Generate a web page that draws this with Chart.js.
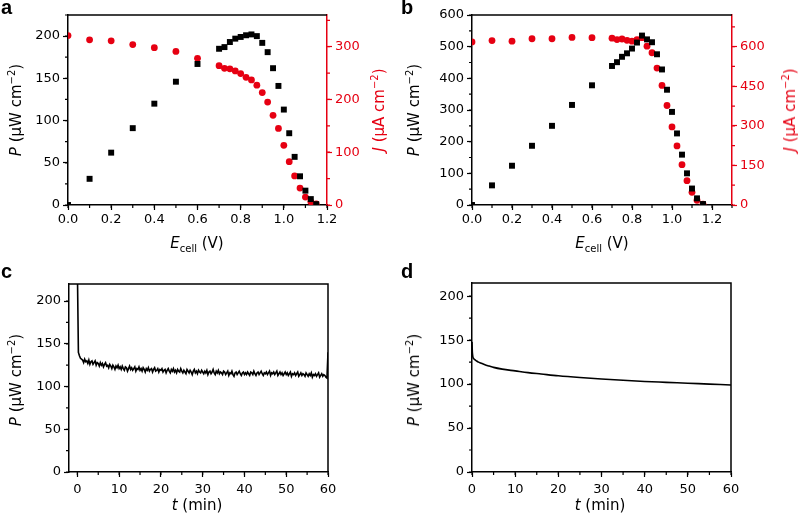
<!DOCTYPE html>
<html>
<head>
<meta charset="utf-8">
<script src="https://cdn.jsdelivr.net/npm/chart.js@4.4.1/dist/chart.umd.min.js"></script>
<style>
  body { margin: 0; background: #fff; }
  #fig { position: relative; width: 799px; height: 520px; overflow: hidden; font-family: "DejaVu Sans", sans-serif; }
  .panel { position: absolute; }
  .lbl { position: absolute; white-space: nowrap; font-size: 15px; transform: translate(-50%, -50%); color: #000; }
  .rot { transform: translate(-50%, -50%) rotate(-90deg); }
  .red { color: #e60012; }
  .letter { position: absolute; font: bold 20px "Liberation Sans", Arial, sans-serif; line-height: 1; }
  sup, sub { font-size: 10px; line-height: 0; }
</style>
</head>
<body>
<div id="fig">
  <canvas id="chartA" class="panel" width="400" height="260" style="left:0;top:0"></canvas>
  <canvas id="chartB" class="panel" width="399" height="260" style="left:400px;top:0"></canvas>
  <canvas id="chartC" class="panel" width="400" height="260" style="left:0;top:260px"></canvas>
  <canvas id="chartD" class="panel" width="399" height="260" style="left:400px;top:260px"></canvas>

  <div class="letter" style="left:1px;top:-3px">a</div>
  <div class="letter" style="left:401px;top:-3px">b</div>
  <div class="letter" style="left:1px;top:261px">c</div>
  <div class="letter" style="left:401px;top:261px">d</div>

  <div class="lbl rot" style="left:16px;top:110px"><i>P</i> (μW cm<sup>−2</sup>)</div>
  <div class="lbl" style="left:197px;top:243px"><i>E</i><sub>cell</sub> (V)</div>
  <div class="lbl rot red" style="left:379px;top:110px"><i>J</i> (μA cm<sup>−2</sup>)</div>

  <div class="lbl rot" style="left:414px;top:110px"><i>P</i> (μW cm<sup>−2</sup>)</div>
  <div class="lbl" style="left:602px;top:243px"><i>E</i><sub>cell</sub> (V)</div>
  <div class="lbl rot red" style="left:790px;top:110px"><i>J</i> (μA cm<sup>−2</sup>)</div>

  <div class="lbl rot" style="left:16px;top:380px"><i>P</i> (μW cm<sup>−2</sup>)</div>
  <div class="lbl" style="left:197px;top:505px"><i>t</i> (min)</div>

  <div class="lbl rot" style="left:414px;top:380px"><i>P</i> (μW cm<sup>−2</sup>)</div>
  <div class="lbl" style="left:600px;top:505px"><i>t</i> (min)</div>
</div>
<script>
// panel a: polarisation / power curves
const aVoltage = [0, 0.1, 0.2, 0.3, 0.4, 0.5, 0.6, 0.7, 0.725, 0.75, 0.775, 0.8, 0.825, 0.85, 0.875, 0.9, 0.925, 0.95, 0.975, 1.0, 1.025, 1.05, 1.075, 1.1, 1.125, 1.15];
const aPower = [0, 31, 62, 91, 120, 146, 167, 185, 187, 193, 197, 199, 201, 202, 200, 192, 181, 162, 141, 113, 85, 57, 34, 17, 7, 1];
const aCurrent = [321, 313, 311, 304, 298, 291, 278, 264, 259, 258, 254, 249, 242, 237, 227, 213, 195, 170, 145, 113, 82, 55, 32, 15, 6, 2];

// panel b
const bVoltage = [0, 0.1, 0.2, 0.3, 0.4, 0.5, 0.6, 0.7, 0.725, 0.75, 0.775, 0.8, 0.825, 0.85, 0.875, 0.9, 0.925, 0.95, 0.975, 1.0, 1.025, 1.05, 1.075, 1.1, 1.125, 1.155];
const bPower = [0, 62, 124, 187, 250, 316, 378, 439, 451, 468, 479, 494, 513, 535, 523, 514, 476, 428, 364, 294, 226, 159, 100, 52, 21, 3];
const bCurrent = [618, 623, 621, 630, 630, 635, 634, 632, 627, 629, 624, 621, 627, 634, 602, 577, 519, 453, 377, 296, 224, 153, 92, 48, 18, 3];

// panel c: power vs time, one sample every 0.25 min from t = 0
const cSampleStep = 0.25;
const cPower = [
  240, 140, 136, 133, 132,
  131, 128, 132, 129, 130, 127, 131, 126, 129, 130, 126, 128, 130, 125, 128, 127,
  124, 128, 125, 127, 123, 126, 128, 124, 125, 122, 126, 124, 121, 125, 123, 120, 124, 122, 125, 121,
  123, 120, 124, 121, 119, 123, 122, 118, 121, 124, 120, 122, 119, 121, 123, 118, 121, 120, 123, 119,
  121, 118, 122, 120, 117, 121, 119, 122, 118, 120, 121, 117, 120, 122, 118, 119, 121, 117, 120, 119,
  121, 117, 119, 120, 116, 119, 121, 118, 116, 120, 118, 121, 117, 119, 116, 120, 118, 117, 121, 118,
  116, 119, 117, 115, 120, 118, 116, 119, 117, 114, 118, 120, 116, 118, 115, 119, 117, 116, 119, 117,
  115, 118, 116, 119, 114, 117, 118, 115, 117, 120, 116, 114, 118, 116, 119, 115, 117, 116, 114, 118,
  117, 114, 116, 118, 113, 116, 115, 118, 114, 112, 116, 117, 114, 116, 118, 115, 113, 116, 117, 114,
  116, 114, 117, 115, 113, 117, 116, 114, 118, 115, 113, 116, 117, 114, 116, 118, 115, 113, 116, 115,
  117, 114, 116, 118, 113, 116, 115, 117, 114, 116, 118, 113, 115, 117, 114, 116, 113, 115, 117, 114,
  116, 113, 115, 117, 112, 115, 114, 116, 113, 115, 117, 112, 114, 116, 113, 115, 114, 112, 116, 114,
  112, 115, 113, 116, 111, 114, 113, 115, 112, 114, 116, 111, 113, 115, 112, 114, 113, 111, 110, 140
];

// panel d
const dTime = [0, 0.05, 0.1, 0.2, 0.4, 0.7, 1, 1.5, 2, 3, 4, 5, 7, 10, 13, 16, 20, 25, 30, 35, 40, 45, 50, 55, 60];
const dPower = [148, 140, 135, 131, 129, 127.5, 126.5, 125, 124, 122, 120.5, 119, 117, 115, 113, 111.5, 109.5, 107.5, 105.8, 104.3, 103, 102, 101, 100, 99];

const BLACK = '#000';
const RED = '#e60012';

const minorTicks = {
  id: 'minorTicks',
  afterDraw(chart, args, opts) {
    const ctx = chart.ctx;
    const steps = opts.steps || {};
    Object.keys(steps).forEach(id => {
      const scale = chart.scales[id];
      const step = steps[id];
      if (!scale) return;
      ctx.save();
      ctx.strokeStyle = scale.options.border.color;
      ctx.lineWidth = 1.2;
      ctx.beginPath();
      const first = Math.ceil(scale.min / step - 1e-9) * step;
      for (let v = first; v <= scale.max + 1e-9; v += step) {
        const p = scale.getPixelForValue(v);
        if (scale.isHorizontal()) {
          ctx.moveTo(p, scale.top); ctx.lineTo(p, scale.top + 3);
        } else if (scale.position === 'left') {
          ctx.moveTo(scale.right, p); ctx.lineTo(scale.right - 3, p);
        } else {
          ctx.moveTo(scale.left, p); ctx.lineTo(scale.left + 3, p);
        }
      }
      ctx.stroke();
      ctx.restore();
    });
  }
};

const frame = {
  id: 'frame',
  afterDraw(chart, args, opts) {
    const { left, right, top, bottom } = chart.chartArea;
    const ctx = chart.ctx;
    ctx.save();
    ctx.strokeStyle = BLACK;
    ctx.lineWidth = 1.5;
    ctx.beginPath();
    ctx.moveTo(left, top);
    ctx.lineTo(right, top);
    if (opts.right) ctx.lineTo(right, bottom);
    ctx.stroke();
    ctx.restore();
  }
};

function axis(pos, min, max, step, color, size, fmt, pad) {
  return {
    type: 'linear',
    position: pos,
    min: min,
    max: max,
    afterFit: s => { if (s.isHorizontal()) s.height = size; else s.width = size; },
    border: { display: true, color: color, width: 1.5 },
    grid: { display: true, drawOnChartArea: false, drawTicks: true, tickLength: 5, tickWidth: 1.2, tickColor: color },
    ticks: {
      stepSize: step, includeBounds: false, autoSkip: false, maxRotation: 0,
      color: color, padding: pad, font: { family: 'DejaVu Sans', size: 13 },
      callback: fmt
    }
  };
}

const fmtInt = v => String(Math.round(v));
const fmtVolt = v => v.toFixed(1);

function pts(xs, ys) {
  return xs.map((x, i) => ({ x: x, y: ys[i] }));
}

function polarChart(id, volt, power, current, cfg) {
  new Chart(document.getElementById(id), {
    type: 'scatter',
    data: {
      datasets: [
        { data: pts(volt, power), yAxisID: 'y', pointStyle: 'rect', pointRadius: 4.2, backgroundColor: BLACK, borderWidth: 0 },
        { data: pts(volt, current), yAxisID: 'y2', pointStyle: 'circle', pointRadius: 3.4, backgroundColor: RED, borderWidth: 0 }
      ]
    },
    options: {
      responsive: false,
      animation: false,
      layout: { padding: { top: 15, left: 0, right: 0, bottom: 0 } },
      plugins: {
        legend: { display: false },
        tooltip: { enabled: false },
        frame: { right: false },
        minorTicks: { steps: { x: 0.1, y: cfg.yMinor, y2: cfg.y2Minor } }
      },
      scales: {
        x: axis('bottom', 0, cfg.xMax, 0.2, BLACK, 55, fmtVolt, 2),
        y: axis('left', 0, cfg.yMax, cfg.yStep, BLACK, cfg.yWidth, fmtInt, 3),
        y2: axis('right', 0, cfg.y2Max, cfg.y2Step, RED, cfg.y2Width, fmtInt, 3)
      }
    },
    plugins: [minorTicks, frame]
  });
}

polarChart('chartA', aVoltage, aPower, aCurrent,
  { xMax: 1.2, yMax: 225, yStep: 50, yMinor: 25, y2Max: 360, y2Step: 100, y2Minor: 50, yWidth: 68, y2Width: 73 });
polarChart('chartB', bVoltage, bPower, bCurrent,
  { xMax: 1.3, yMax: 600, yStep: 100, yMinor: 50, y2Max: 720, y2Step: 150, y2Minor: 75, yWidth: 72, y2Width: 67 });

function timeChart(id, points, cfg) {
  new Chart(document.getElementById(id), {
    type: 'scatter',
    data: {
      datasets: [{ data: points, showLine: true, pointRadius: 0, borderColor: BLACK, borderWidth: cfg.lw, cubicInterpolationMode: cfg.smooth ? 'monotone' : 'default' }]
    },
    options: {
      responsive: false,
      animation: false,
      layout: { padding: { top: cfg.top, left: 0, right: cfg.right, bottom: 0 } },
      plugins: {
        legend: { display: false },
        tooltip: { enabled: false },
        frame: { right: true },
        minorTicks: { steps: { x: 5, y: 25 } }
      },
      scales: {
        x: axis('bottom', cfg.xMin, 60, 10, BLACK, 48, fmtInt, 5),
        y: axis('left', 0, cfg.yMax, 50, BLACK, cfg.yWidth, fmtInt, 3)
      }
    },
    plugins: [minorTicks, frame]
  });
}

timeChart('chartC', cPower.map((p, i) => ({ x: i * cSampleStep, y: p })),
  { xMin: -2, yMax: 220, top: 24, right: 72, yWidth: 69, lw: 1.6, smooth: false });
timeChart('chartD', pts(dTime, dPower),
  { xMin: 0, yMax: 215, top: 23, right: 68, yWidth: 72, lw: 1.6, smooth: true });
</script>
</body>
</html>
